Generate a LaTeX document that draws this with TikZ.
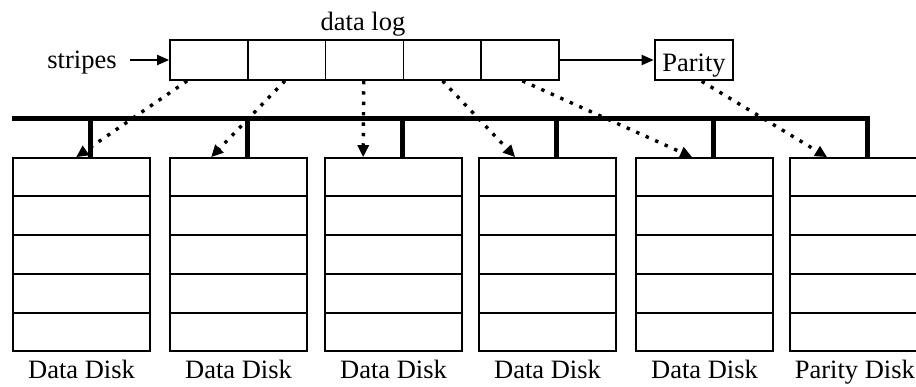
\documentclass[tikz,border=0pt]{standalone}
\usepackage{fontspec}
\setmainfont{Liberation Serif}
\usetikzlibrary{arrows.meta,calc}
\begin{document}
\begin{tikzpicture}[x=1pt,y=-1pt,
  lbl/.style={font=\fontsize{26.5}{30}\selectfont, inner sep=0pt},
  cell/.style={draw, line width=1.7pt, minimum width=77.8pt, minimum height=40pt, inner sep=0pt},
  paritybox/.style={draw, line width=2.6pt, minimum width=78pt, minimum height=40pt, inner sep=0pt, text height=23pt, text depth=0pt, font=\fontsize{26.5}{30}\selectfont},
  disk/.style={draw, line width=1.7pt, minimum width=137pt, minimum height=193pt, inner sep=0pt},
  bus/.style={line width=5pt},
  solidarrow/.style={line width=2pt, -{Triangle[length=12pt,width=10pt]}},
  dotarrow/.style={line width=3.4pt, dash pattern=on 3.4pt off 7pt, -{Triangle[length=12pt,width=11pt]}}
]
\useasboundingbox (0,0) rectangle (916,386);
\clip (0,0) rectangle (916,386);
% data log cells
\foreach \i in {1,...,5} {
  \node[cell] (c\i) at ({170+38.9+77.8*(\i-1)},60) {};
}
\node[lbl, anchor=base] (dlog) at (363,30) {data log};
\node[lbl, anchor=base] (stripes) at (82,68) {stripes};
\coordinate (stripesend) at (130,60);
\draw[solidarrow] (stripesend) -- (c1.west);
\node[paritybox] (par) at (694,60) {Parity};
\draw[solidarrow] (c5.east) -- (par.west);
% disks
\foreach \i/\x in {1/13,2/170,3/325,4/479,5/636,6/790} {
  \node[disk] (d\i) at ({\x+68.5},254.5) {};
  \foreach \k in {1,...,4} {
    \draw[line width=1.7pt] ($(d\i.north west)!\k/5!(d\i.south west)$) -- ($(d\i.north east)!\k/5!(d\i.south east)$);
  }
  \coordinate (s\i) at ($(d\i.north west)+(78,0)$);
}
\foreach \i in {1,...,5} {
  \node[lbl, anchor=base] (l\i) at ($(d\i.south)+(0,27)$) {Data Disk};
}
\node[lbl, anchor=base east] (l6) at (915,378) {Parity Disk};
% bus
\coordinate (busL) at (12,118);
\draw[bus] (busL) -| (s6);
\foreach \i in {1,...,5} {
  \draw[bus] (s\i) -- (s\i |- busL);
}
% dotted arrows
\draw[dotarrow] ($(c1.south west)+(18,0)$) -- ($(d1.north west)+(64,0)$);
\draw[dotarrow] ($(c2.south west)+(38,0)$) -- ($(d2.north west)+(42,0)$);
\draw[dotarrow] ($(c3.south west)+(39,0)$) -- ($(d3.north west)+(39,0)$);
\draw[dotarrow] ($(c4.south west)+(40,0)$) -- ($(d4.north west)+(37,0)$);
\draw[dotarrow] ($(c5.south west)+(42,0)$) -- ($(d5.north west)+(57,0)$);
\draw[dotarrow] ($(par.south west)+(48,0)$) -- ($(d6.north west)+(38,0)$);
\end{tikzpicture}
\end{document}
